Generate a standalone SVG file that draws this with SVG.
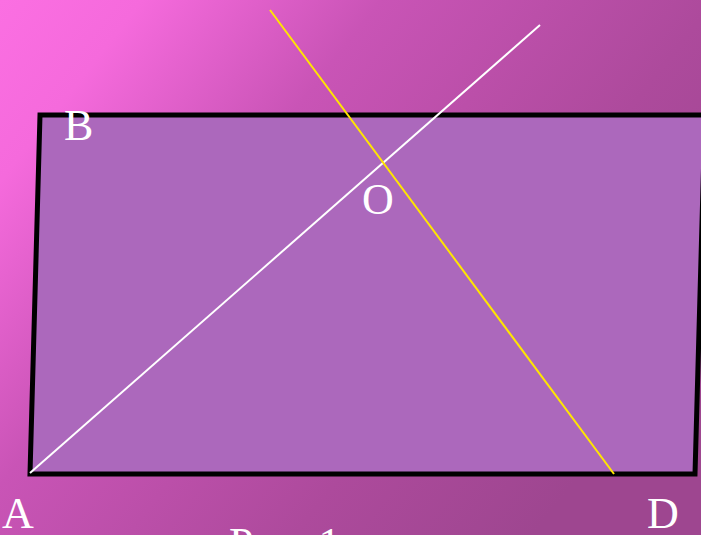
<svg xmlns="http://www.w3.org/2000/svg" width="701" height="535" viewBox="0 0 701 535">
<defs>
<linearGradient id="bg" x1="0" y1="0" x2="1" y2="0.6">
<stop offset="0" stop-color="#FB6FE2"/>
<stop offset="0.15" stop-color="#F56ADC"/>
<stop offset="0.4" stop-color="#C954B6"/>
<stop offset="0.75" stop-color="#AD4A9C"/>
<stop offset="1" stop-color="#9E4690"/>
</linearGradient>
</defs>
<style>
.lbl{font-family:"Liberation Serif","Times New Roman",serif;font-size:44px;fill:#FFFFFF}
</style>
<rect x="0" y="0" width="701" height="535" fill="url(#bg)"/>
<g id="quad">
<polygon points="40,115 705,115 695,474 30,474" fill="#AC68BC" stroke="#000000" stroke-width="5"/>
</g>
<g id="connectors">
<line x1="30" y1="473" x2="540" y2="25" stroke="#FFFFFF" stroke-width="2"/>
<line x1="270" y1="10" x2="614" y2="474" stroke="#FFE600" stroke-width="2"/>
</g>
<g id="labels">
<text class="lbl" x="64" y="140">B</text>
<text class="lbl" x="362" y="214">O</text>
<text class="lbl" x="2" y="528">A</text>
<text class="lbl" x="647" y="528">D</text>
<text class="lbl" x="229" y="558">Рис. 1</text>
</g>
</svg>
